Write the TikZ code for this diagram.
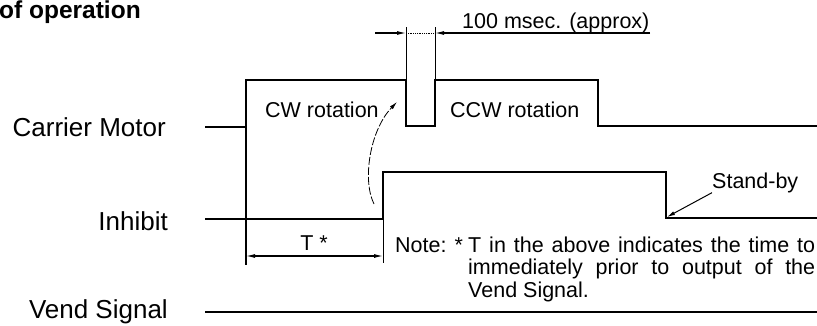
\documentclass[tikz,border=0pt]{standalone}
\usepackage{fontspec}
\setmainfont{Liberation Sans}
\usetikzlibrary{arrows.meta}
\tikzset{
  wave/.style={line width=2.4pt, line join=miter},
  dimline/.style={line width=1.1pt},
  extline/.style={line width=0.8pt},
  sigtext/.style={font=\fontsize{26}{28}\selectfont, inner sep=0pt, anchor=base east},
  smalltext/.style={font=\fontsize{21.5}{22.5}\selectfont, inner sep=0pt},
  dimtip/.style={-{Latex[length=9pt,width=4pt]}},
}

\begin{document}
\begin{tikzpicture}[x=1pt,y=-1pt]
    \useasboundingbox (0,0) rectangle (817,325);
    % title, cut at the left edge
    \node[font=\fontsize{24.5}{26}\selectfont\bfseries, inner sep=0pt, anchor=base west] (title) at (-1,18) {of operation};
    % signal names
    \node[sigtext] (motor) at (166,136) {Carrier Motor};
    \node[sigtext] (inhibit) at (168,230) {Inhibit};
    \node[sigtext] (vend) at (168,318) {Vend Signal};
    % waveforms
    \draw[wave] (205,127) -- (246,127) -- (246,80) -- (406,80) -- (406,126) -- (435,126) -- (435,80) -- (598,80) -- (598,126) -- (820,126);
    \draw[wave] (205,219) -- (383,219) -- (383,172) -- (666,172) -- (666,218) -- (820,218);
    \draw[wave] (205,312) -- (820,312);
    % extension lines
    \draw[line width=2pt] (246,127) -- (246,265);
    \draw[extline] (383,219) -- (383,263);
    \draw[extline] (406,80) -- (406,27);
    \draw[extline] (435,80) -- (435,27);
    % 100 msec
    \draw[dimline, dimtip] (375,33) -- (406,33);
    \draw[dimline, dimtip] (650,33) -- (435,33);
    \draw[extline, densely dotted] (406,33) -- (435,33);
    \node[smalltext, anchor=base west] (msec) at (462,28) {100 msec. (approx)};
    % T*
    \draw[dimline, {Latex[length=9pt,width=4pt]}-{Latex[length=9pt,width=4pt]}] (246,256) -- (383,256);
    \node[smalltext, anchor=base] (tstar) at (314,250) {T *};
    % rotation
    \node[smalltext, anchor=base west] (cw) at (265,117) {CW rotation};
    \node[smalltext, anchor=base west] (ccw) at (450,117) {CCW rotation};
    \coordinate (cwstart) at (374,204);
    \coordinate (cwtip) at (397,102);
    \draw[line width=0.8pt, dash pattern=on 8pt off 2pt, -{Latex[length=8pt,width=4pt]}] (cwstart) .. controls (362,180) and (370,130) .. (cwtip);
    % stand-by
    \node[smalltext, anchor=base west] (standby) at (712,188) {Stand-by};
    \coordinate (sbcorner) at (667,217);
    \draw[line width=1pt, -{Latex[length=8pt,width=4pt]}] (standby.south west) -- (sbcorner);
    % note (base of the node is its last line)
    \node[smalltext, anchor=base west] (note) at (395,252) {Note: *};
    \node[smalltext, anchor=base west, align=left] (notetext) at (468,297) {\makebox[347pt][s]{T in the above indicates the time to}\\ \makebox[347pt][s]{immediately prior to output of the}\\ Vend Signal.};
\end{tikzpicture}
\end{document}
